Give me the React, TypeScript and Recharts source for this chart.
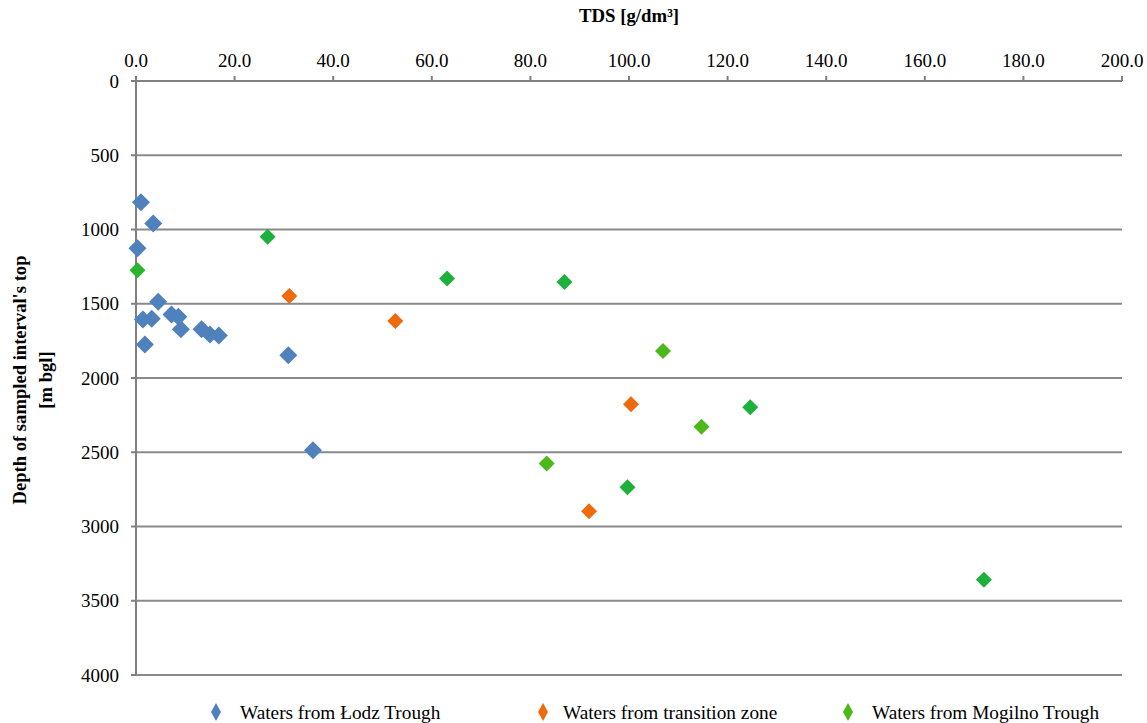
import React from "react";
import { ScatterChart, Scatter, XAxis, YAxis, CartesianGrid, Cell } from "recharts";

// ---- data ----
const seriesNames = ["Waters from Łodz Trough", "Waters from transition zone", "Waters from Mogilno Trough"];
const seriesColors = ["#4F81BD", "#EE6A0C", "#4CB81C"];

const lodzTDS = [1.0, 3.5, 0.3, 4.5, 1.4, 3.2, 1.8, 7.2, 8.6, 9.1, 13.3, 15.0, 16.8, 30.9, 35.9];
const lodzDepth = [817, 959, 1127, 1487, 1606, 1601, 1774, 1572, 1588, 1671, 1671, 1707, 1714, 1846, 2486];

const transTDS = [31.1, 52.6, 100.4, 91.9];
const transDepth = [1447, 1617, 2177, 2898];

const mogilnoTDS = [0.3, 26.7, 63.1, 86.9, 106.9, 124.6, 114.7, 83.3, 99.7, 172.0];
const mogilnoDepth = [1274, 1049, 1330, 1354, 1819, 2197, 2329, 2576, 2736, 3358];
const mogilnoShades = ["#2DB42E", "#1DB03A", "#1DB03A", "#1DB03A", "#4CB81C", "#1DB03A", "#4CB81C", "#4CB81C", "#1DB03A", "#1DB03A"];

const xTicks = [0, 20, 40, 60, 80, 100, 120, 140, 160, 180, 200];
const yTicks = [0, 500, 1000, 1500, 2000, 2500, 3000, 3500, 4000];

const xTitle = "TDS [g/dm³]";
const yTitle1 = "Depth of sampled interval's top";
const yTitle2 = "[m bgl]";

const toPoints = (xs: number[], ys: number[]) => xs.map((x, i) => ({ x, y: ys[i] }));
const lodzData = toPoints(lodzTDS, lodzDepth);
const transData = toPoints(transTDS, transDepth);
const mogilnoData = toPoints(mogilnoTDS, mogilnoDepth);

const FONT = "'Liberation Serif', 'Times New Roman', serif";
const AXIS = "#808080";

const makeDiamond = (r: number) => (props: any) => {
  const { cx, cy, fill } = props;
  if (cx == null || cy == null) return <g />;
  return (
    <polygon
      points={`${cx},${cy - r} ${cx + r},${cy} ${cx},${cy + r} ${cx - r},${cy}`}
      fill={fill}
    />
  );
};

const YLabel = () => (
  <g>
    <text
      transform="translate(26,380) rotate(-90)"
      textAnchor="middle"
      fontFamily={FONT}
      fontWeight="bold"
      fontSize={18.6}
      fill="#000"
    >
      {yTitle1}
    </text>
    <text
      transform="translate(52,380) rotate(-90)"
      textAnchor="middle"
      fontFamily={FONT}
      fontWeight="bold"
      fontSize={18.6}
      fill="#000"
    >
      {yTitle2}
    </text>
  </g>
);

const legendMarkerX = [216, 543, 848];
const legendTextX = [240, 563, 872];

export default function App() {
  return (
    <div style={{ position: "absolute", left: 0, top: 0, width: 1147, height: 723, background: "#fff", overflow: "hidden" }}>
      <ScatterChart width={1147} height={723} margin={{ top: 0, right: 25, left: 0, bottom: 48 }}>
        <CartesianGrid vertical={false} stroke="#8A8A8A" strokeWidth={2} />
        <XAxis
          type="number"
          dataKey="x"
          orientation="top"
          domain={[0, 200]}
          ticks={xTicks}
          interval={0}
          height={81}
          tickFormatter={(v: number) => v.toFixed(1)}
          tick={{ fontFamily: FONT, fontSize: 19, fill: "#000" }}
          tickSize={5}
          tickMargin={9}
          axisLine={{ stroke: AXIS, strokeWidth: 2 }}
          tickLine={{ stroke: AXIS, strokeWidth: 2 }}
          label={{ value: xTitle, position: "insideTop", offset: 9, fontFamily: FONT, fontWeight: "bold", fontSize: 18.8, fill: "#000" }}
        />
        <YAxis
          type="number"
          dataKey="y"
          reversed
          domain={[0, 4000]}
          ticks={yTicks}
          interval={0}
          width={136}
          tick={{ fontFamily: FONT, fontSize: 19, fill: "#000" }}
          tickSize={5}
          tickMargin={12}
          axisLine={{ stroke: AXIS, strokeWidth: 2 }}
          tickLine={{ stroke: AXIS, strokeWidth: 2 }}
          label={<YLabel />}
        />
        <Scatter name={seriesNames[0]} data={lodzData} fill={seriesColors[0]} shape={makeDiamond(9)} isAnimationActive={false} />
        <Scatter name={seriesNames[1]} data={transData} fill={seriesColors[1]} shape={makeDiamond(8)} isAnimationActive={false} />
        <Scatter name={seriesNames[2]} data={mogilnoData} fill={seriesColors[2]} shape={makeDiamond(8)} isAnimationActive={false}>
          {mogilnoData.map((_, i) => (
            <Cell key={i} fill={mogilnoShades[i]} />
          ))}
        </Scatter>
      </ScatterChart>
      {seriesNames.map((n, i) => (
        <React.Fragment key={n}>
          <svg width={16} height={20} style={{ position: "absolute", left: legendMarkerX[i] - 8, top: 702 }}>
            <polygon points="8,1 13,10 8,19 3,10" fill={seriesColors[i]} />
          </svg>
          <span
            style={{
              position: "absolute",
              left: legendTextX[i],
              top: 702,
              fontFamily: FONT,
              fontSize: 19.3,
              lineHeight: "22px",
              color: "#000",
              whiteSpace: "nowrap",
            }}
          >
            {n}
          </span>
        </React.Fragment>
      ))}
    </div>
  );
}
